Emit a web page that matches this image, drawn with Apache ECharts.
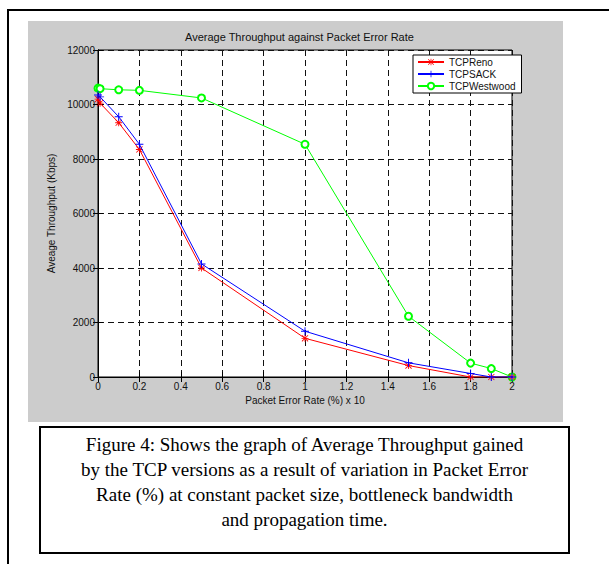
<!DOCTYPE html>
<html>
<head>
<meta charset="utf-8">
<script src="https://cdn.jsdelivr.net/npm/echarts@6/dist/echarts.min.js"></script>
<style>
  html, body { margin: 0; padding: 0; background: #fff; }
  #page { position: relative; width: 609px; height: 564px; overflow: hidden; background: #fff; }
  #topline { position: absolute; left: 7px; top: 9px; width: 602px; height: 2px; background: #000; }
  #leftline { position: absolute; left: 7px; top: 9px; width: 2px; height: 555px; background: #000; }
  #chart { position: absolute; left: 28px; top: 21px; width: 535px; height: 401px; }
  #caption { position: absolute; left: 39px; top: 426px; width: 531px; height: 128px; box-sizing: border-box;
    border: 2px solid #000; font-family: "Liberation Serif", "DejaVu Serif", serif; font-size: 19px;
    line-height: 25px; text-align: center; padding-top: 4px; color: #000; }
</style>
</head>
<body>
<div id="page">
  <div id="topline"></div>
  <div id="leftline"></div>
  <div id="chart"></div>
  <div id="caption">Figure 4: Shows the graph of Average Throughput gained<br>by the TCP versions as a result of variation in Packet Error<br>Rate (%) at constant packet size, bottleneck bandwidth<br>and propagation time.</div>
</div>
<script>
const errorRate = [0, 0.01, 0.1, 0.2, 0.5, 1, 1.5, 1.8, 1.9, 2];
const tcpReno = [10200, 10050, 9330, 8350, 4000, 1420, 420, 0, 0, 0];
const tcpSack = [10350, 10280, 9550, 8540, 4150, 1680, 520, 130, 0, 0];
const tcpWestwood = [10600, 10580, 10540, 10520, 10240, 8540, 2230, 510, 310, 0];
const seriesNames = ['TCPReno', 'TCPSACK', 'TCPWestwood'];
const titleText = 'Average Throughput against Packet Error Rate';
const xName = 'Packet Error Rate (%) x 10';
const yName = 'Aveage Throughput (Kbps)';

const plusPath = 'path://M4.4,0H5.6V10H4.4ZM0,4.4H10V5.6H0Z';
const starPath = 'path://M4.4,0H5.6V10H4.4ZM0,4.4H10V5.6H0ZM1,0.2L9.8,9L9,9.8L0.2,1ZM9,0.2L9.8,1L1,9.8L0.2,9Z';

function pairs(ys) { return errorRate.map((x, i) => [x, ys[i]]); }

const chart = echarts.init(document.getElementById('chart'), null, { renderer: 'svg' });
const font = '"Liberation Sans", Arial, sans-serif';
const gridLine = { show: true, lineStyle: { color: '#111', type: [6, 4], width: 1 } };
const tick = { show: true, inside: true, length: 5, lineStyle: { color: '#000' } };

chart.setOption({
  backgroundColor: '#cccccc',
  animation: false,
  textStyle: { fontFamily: font },
  graphic: [{
    type: 'text', left: 277 - 120, top: 10,
    style: { text: titleText, x: 0, y: 0, font: '11px ' + font, fill: '#111', width: 240, align: 'center' },
  }],
  grid: { left: 70, top: 29, width: 414, height: 327, show: true, backgroundColor: '#fff',
    borderColor: '#000', borderWidth: 1, outerBoundsMode: 'none' },
  legend: {
    orient: 'vertical', left: 385, top: 34, itemWidth: 26, itemHeight: 8, itemGap: 2,
    padding: [2, 6, 2, 4], backgroundColor: '#fff', borderColor: '#000', borderWidth: 1,
    textStyle: { fontSize: 10, color: '#111', fontFamily: font }, data: seriesNames
  },
  xAxis: [{
    type: 'value', min: 0, max: 2, interval: 0.2, position: 'bottom',
    name: xName, nameLocation: 'middle', nameGap: 17,
    nameTextStyle: { fontSize: 10, color: '#111' },
    axisLine: { show: true, lineStyle: { color: '#000' } }, axisTick: tick,
    axisLabel: { fontSize: 10, color: '#111', margin: 4 },
    splitLine: gridLine
  }, {
    type: 'value', min: 0, max: 2, interval: 0.2, position: 'top',
    axisLine: { show: true, lineStyle: { color: '#000' } }, axisTick: tick,
    axisLabel: { show: false }, splitLine: { show: false }
  }],
  yAxis: [{
    type: 'value', min: 0, max: 12000, interval: 2000, position: 'left',
    name: yName, nameLocation: 'middle', nameGap: 31, nameRotate: 90,
    nameTextStyle: { fontSize: 10, color: '#111' },
    axisLine: { show: true, lineStyle: { color: '#000' } }, axisTick: tick,
    axisLabel: { fontSize: 10, color: '#111', margin: 3, formatter: v => String(v) },
    splitLine: gridLine
  }, {
    type: 'value', min: 0, max: 12000, interval: 2000, position: 'right',
    axisLine: { show: true, lineStyle: { color: '#000' } }, axisTick: tick,
    axisLabel: { show: false }, splitLine: { show: false }
  }],
  series: [{
    name: seriesNames[0], type: 'line', data: pairs(tcpReno), symbol: starPath, symbolSize: 7,
    showAllSymbol: true, lineStyle: { color: '#ff0000', width: 1 }, itemStyle: { color: '#ff0000' }, z: 3
  }, {
    name: seriesNames[1], type: 'line', data: pairs(tcpSack), symbol: plusPath, symbolSize: 8,
    showAllSymbol: true, lineStyle: { color: '#0000ff', width: 1 }, itemStyle: { color: '#0000ff' }, z: 4
  }, {
    name: seriesNames[2], type: 'line', data: pairs(tcpWestwood), symbol: 'emptyCircle', symbolSize: 7,
    showAllSymbol: true, lineStyle: { color: '#00ff00', width: 1 },
    itemStyle: { color: '#00ff00', borderColor: '#00ff00', borderWidth: 1 }, z: 2
  }]
});
</script>
</body>
</html>
